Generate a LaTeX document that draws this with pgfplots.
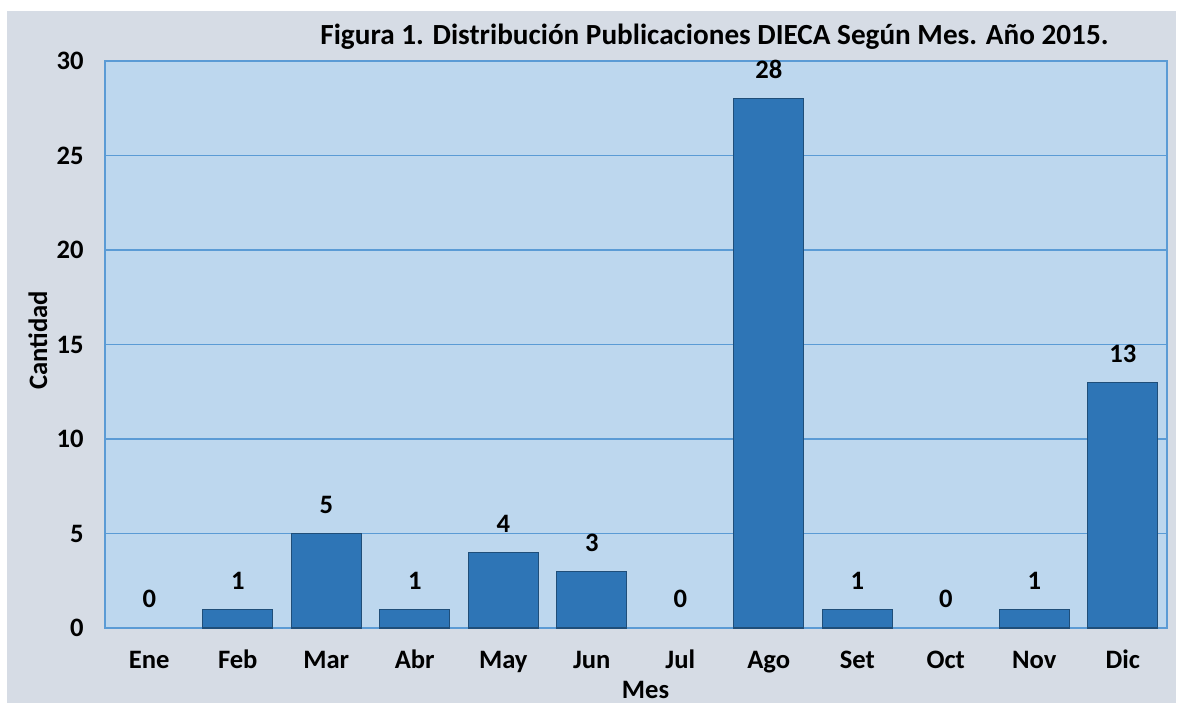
\documentclass[border=0pt]{standalone}
\usepackage{fontspec}
\setmainfont{Carlito}
\usepackage{pgfplots}
\usepackage{pgfplotstable}
\pgfplotsset{compat=1.18}

\definecolor{bgouter}{HTML}{D6DCE5}
\definecolor{plotbg}{HTML}{BDD7EE}
\definecolor{gridblue}{HTML}{5B9BD5}
\definecolor{barfill}{HTML}{2E75B6}
\definecolor{baredge}{HTML}{1F4E79}

% publicaciones por mes (0 = Ene ... 11 = Dic)
\pgfplotstableread{
x y
0 0
1 1
2 5
3 1
4 4
5 3
6 0
7 28
8 1
9 0
10 1
11 13
}\pubdata

\begin{document}
\begin{tikzpicture}
\fill[white] (0,0) rectangle (591pt,351.5pt);
\fill[bgouter] (3.5pt,0) rectangle (588pt,346pt);
\node[anchor=base west, inner sep=0pt, font=\fontsize{14.6}{17}\selectfont\bfseries]
  at (160pt,329pt) {Figura 1. Distribución Publicaciones DIECA Según Mes. Año 2015.};
\begin{axis}[
    at={(52.5pt,37.5pt)}, anchor=south west,
    scale only axis,
    width=531pt, height=283.5pt,
    ybar, bar width=35pt,
    xmin=-0.5, xmax=11.5,
    ymin=0, ymax=30,
    xtick={0,...,11},
    xticklabels={Ene,Feb,Mar,Abr,May,Jun,Jul,Ago,Set,Oct,Nov,Dic},
    ytick={0,5,...,30},
    axis background/.style={fill=plotbg},
    axis line style={draw=gridblue, line width=0.75pt},
    ymajorgrids,
    grid style={draw=gridblue, line width=0.75pt},
    major tick length=0pt,
    tick style={draw=none},
    font=\fontsize{13.3}{15}\selectfont\bfseries,
    /pgf/number format/assume math mode=true,
    yticklabel style={anchor=east, xshift=-7.2pt},
    xticklabel style={text height=9pt, text depth=0pt, yshift=-7.7pt},
    xlabel={Mes},
    ylabel={Cantidad},
    xlabel style={at={(axis description cs:0.509,-0.1235)}, anchor=base},
    ylabel style={at={(axis description cs:-0.0546,0.507)}, anchor=base},
    clip=false,
]
\addplot[ybar, bar shift=0pt, fill=barfill, draw=baredge, line width=0.6pt,
    y filter/.expression={y==0 ? nan : y}]
    table[x=x, y=y] {\pubdata};
\addplot[ybar, bar shift=0pt, draw=none, fill=none,
    nodes near coords,
    every node near coord/.append style={anchor=south, yshift=6.5pt, text=black,
        font=\fontsize{13.3}{15}\selectfont\bfseries}]
    table[x=x, y=y] {\pubdata};
\end{axis}
\pgfresetboundingbox
\useasboundingbox (0,0) rectangle (591pt,351.5pt);
\end{tikzpicture}
\end{document}
